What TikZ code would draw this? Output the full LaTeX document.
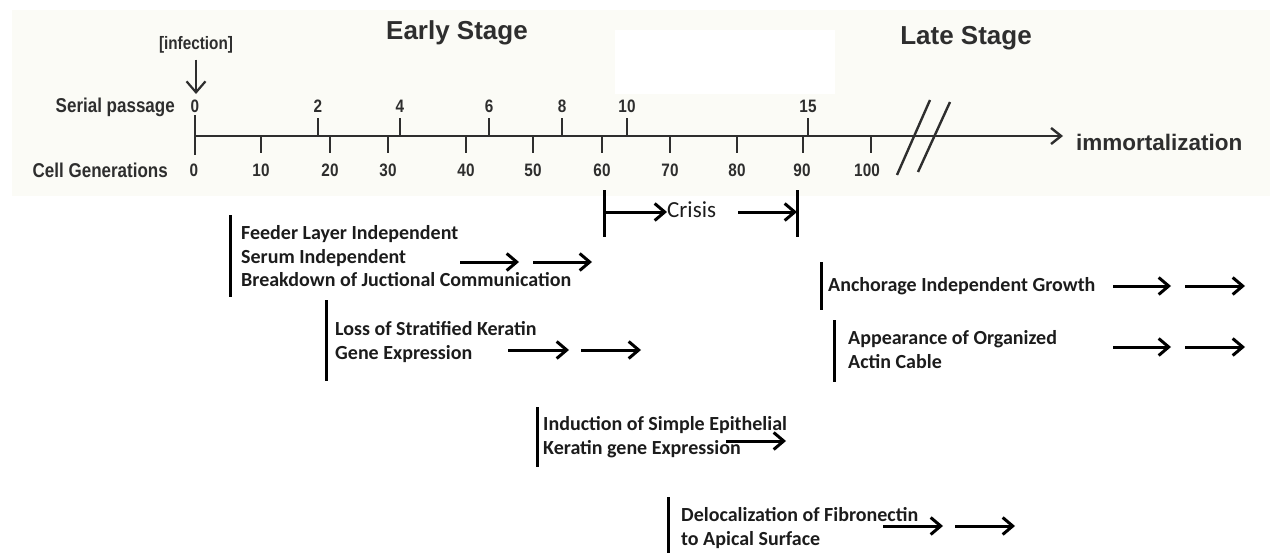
\documentclass[tikz,border=0pt]{standalone}
\usepackage{fontspec}
\setmainfont{Carlito}
\newfontfamily\arial{Liberation Sans}
\newfontfamily\arialc{Liberation Sans}[FakeStretch=0.85]
\usetikzlibrary{arrows.meta}
\definecolor{panel}{HTML}{FBFBF6}
\definecolor{topgray}{HTML}{2E2E2E}
\definecolor{ink}{HTML}{1C1C1C}
\begin{document}
\begin{tikzpicture}[x=1pt,y=-1pt,
  toptext/.style={font=\arialc\bfseries\fontsize{20}{24}\selectfont, text=topgray, inner sep=0},
  num/.style={font=\arialc\bfseries\fontsize{18}{21}\selectfont, text=topgray, inner sep=0},
  stage/.style={font=\arial\bfseries\fontsize{26}{30}\selectfont, text=topgray, inner sep=0},
  axisline/.style={draw=topgray, line width=2.4pt},
  tickline/.style={draw=topgray, line width=2.4pt},
  evtext/.style={font=\bfseries\fontsize{20}{23.5}\selectfont, text=ink, align=left, anchor=west, inner sep=0},
  evbar/.style={draw=black, line width=3pt},
  evarrow/.style={draw=black, line width=3pt, -{Straight Barb[length=10pt,width=17pt]}}
]
\useasboundingbox (0,0) rectangle (1270,554);
\fill[panel] (12,10) rectangle (1270,196);
\fill[white] (615,30) rectangle (835,94);

% titles
\node[stage] (early) at (457,33) {Early Stage};
\node[stage] (late) at (966,38) {Late Stage};
\node[font=\arialc\bfseries\fontsize{18}{21}\selectfont, text=topgray, inner sep=0] (inf) at (196,45) {[infection]};
\node[toptext, anchor=east] (sp) at (175,107) {Serial passage};
\node[toptext, anchor=east] (cg) at (168,170) {Cell Generations};

% axis
\coordinate (axL) at (195,136);
\coordinate (axR) at (1063,136);
\draw[axisline, -{Straight Barb[length=10pt,width=16pt]}] (axL) -- (axR);
\node[font=\arial\bfseries\fontsize{22.5}{26}\selectfont, text=topgray, inner sep=0, anchor=west] (imm) at (1076,142) {immortalization};
\draw[axisline] (897,175) -- (930,100);
\draw[axisline] (918,172) -- (950,102);

% infection arrow
\node[num] (sp0) at (195,106) {0};
\coordinate (infA) at (196,94);
\draw[draw=topgray, line width=2.2pt, -{Straight Barb[length=11pt,width=19pt]}] (inf.south) ++(0,6) -- (infA);
\draw[tickline] (195,115) -- (195,155);

% serial passage ticks
\foreach \x/\v in {318/2,400/4,489/6,562/8,627/10,808/15} {
  \draw[tickline] (\x,118) -- (\x,136);
  \node[num] (sp\v) at (\x,106) {\v};
}
% cell generation ticks
\foreach \x/\v in {261/10,330/20,388/30,466/40,533/50,602/60,670/70,737/80,803/90,871/100} {
  \draw[tickline] (\x,136) -- (\x,153);
}
\foreach \x/\v in {194/0,261/10,330/20,388/30,466/40,533/50,602/60,670/70,737/80,802/90,867/100} {
  \node[num] (cg\v) at (\x,170) {\v};
}

% crisis
\draw[evbar] (604,190) -- (604,237);
\draw[evbar] (797,190) -- (797,237);
\node[font=\fontsize{23}{26}\selectfont, text=ink, inner sep=0, anchor=west] (crisis) at (667,210) {Crisis};
\coordinate (crL) at (604,212);
\coordinate (crA) at (738,212);
\coordinate (crB) at (797,212);
\draw[evarrow] (crL) -- (crL -| crisis.west);
\draw[evarrow] (crA) -- (crB);

% Feeder
\draw[evbar] (230,215) -- (230,297);
\node[evtext] (feeder) at (241,256.5) {Feeder Layer Independent\\Serum Independent\\Breakdown of Juctional Communication};
\coordinate (f1) at (460,262); \coordinate (f2) at (519,262);
\coordinate (f3) at (533,262); \coordinate (f4) at (592,262);
\draw[evarrow] (f1) -- (f2);
\draw[evarrow] (f3) -- (f4);

% Loss of stratified
\draw[evbar] (326,300) -- (326,381);
\node[evtext] (loss) at (335,342) {Loss of Stratified Keratin\\Gene Expression};
\coordinate (l1) at (508,350); \coordinate (l2) at (569,350);
\coordinate (l3) at (581,350); \coordinate (l4) at (641,350);
\draw[evarrow] (l1) -- (l2);
\draw[evarrow] (l3) -- (l4);

% Anchorage
\draw[evbar] (821,262) -- (821,310);
\node[evtext] (anch) at (828,286) {Anchorage Independent Growth};
\coordinate (a1) at (1113,286); \coordinate (a2) at (1171,286);
\coordinate (a3) at (1185,286); \coordinate (a4) at (1245,286);
\draw[evarrow] (a1) -- (a2);
\draw[evarrow] (a3) -- (a4);

% Appearance
\draw[evbar] (834,320) -- (834,382);
\node[evtext] (app) at (848,349.5) {Appearance of Organized\\Actin Cable};
\coordinate (b1) at (1113,347); \coordinate (b2) at (1171,347);
\coordinate (b3) at (1185,347); \coordinate (b4) at (1245,347);
\draw[evarrow] (b1) -- (b2);
\draw[evarrow] (b3) -- (b4);

% Induction
\draw[evbar] (537,407) -- (537,467);
\node[evtext] (ind) at (543,437) {Induction of Simple Epithelial\\Keratin gene Expression};
\coordinate (i1) at (726,441); \coordinate (i2) at (786,441);
\draw[evarrow] (i1) -- (i2);

% Delocalization
\draw[evbar] (668,497) -- (668,553);
\node[evtext] (deloc) at (681,528) {Delocalization of Fibronectin\\to Apical Surface};
\coordinate (d1) at (883,526); \coordinate (d2) at (943,526);
\coordinate (d3) at (955,526); \coordinate (d4) at (1015,526);
\draw[evarrow] (d1) -- (d2);
\draw[evarrow] (d3) -- (d4);
\end{tikzpicture}
\end{document}
